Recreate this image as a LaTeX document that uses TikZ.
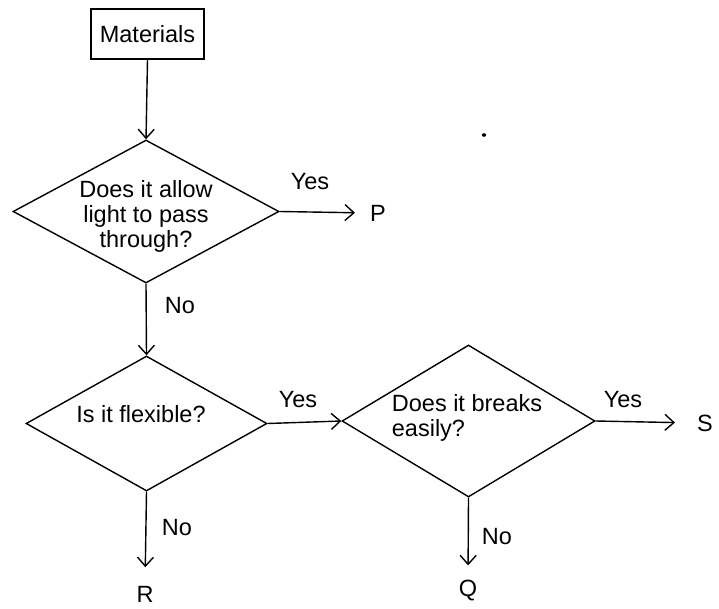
\documentclass[tikz,border=0pt]{standalone}
\usepackage{fontspec}
\setmainfont{Liberation Sans}
\usetikzlibrary{shapes.geometric,arrows.meta}
\begin{document}
\begin{tikzpicture}[x=1pt,y=-1pt,
  every node/.style={font=\fontsize{23.5}{25}\selectfont, inner sep=0pt},
  box/.style={draw, line width=1.4pt, minimum width=113pt, minimum height=50pt},
  dia/.style={draw, diamond, line width=1.4pt},
  txt/.style={align=center},
  conn/.style={line width=1.4pt, -{Straight Barb[length=9pt,width=16pt,line width=1.4pt]}}
]
\useasboundingbox (0,0) rectangle (719,609);
% start box
\node[box] (mat) at (147.5,34) {Materials};
% decisions
\node[dia, minimum width=266pt, minimum height=143pt] (d1) at (146,211.5) {};
\node[txt] (t1) at (146,216) {Does it allow\\light to pass\\through?};
\node[dia, minimum width=241pt, minimum height=135pt] (d2) at (146.5,423.5) {};
\node[txt] (t2) at (141,414) {Is it flexible?};
\node[dia, minimum width=253pt, minimum height=152pt] (d3) at (468.5,421) {};
\node[align=left] (t3) at (467,418) {Does it breaks\\easily?};
% outcomes
\node (P) at (378,213) {P};
\node (S) at (705,423) {S};
\node (R) at (145,594) {R};
\node (Q) at (468,591) {Q};
% connectors
\draw[conn] (mat.south) -- (d1.north);
\draw[conn, shorten >=15pt] (d1.east) -- (P.west);
\draw[conn] (d1.south) -- (d2.north);
\draw[conn] (d2.east) -- (d3.west);
\draw[conn, shorten >=18.5pt] (d2.south) -- (R.north);
\draw[conn, shorten >=22pt] (d3.east) -- (S.west);
\draw[conn, shorten >=15pt] (d3.south) -- (Q.north);
% labels
\node (y1) at (310,182) {Yes};
\node (n1) at (180,306) {No};
\node (y2) at (298,400) {Yes};
\node (n2) at (177,528) {No};
\node (y3) at (623,400) {Yes};
\node (n3) at (497,537) {No};
% speck
\fill (484,135) ellipse (2.2pt and 1.8pt);
\end{tikzpicture}
\end{document}
